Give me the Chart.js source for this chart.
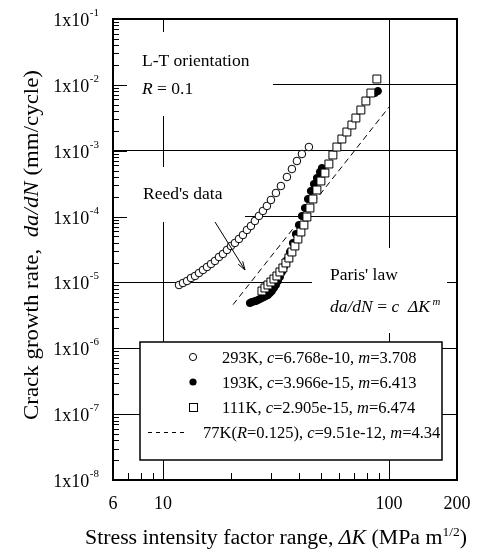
<!DOCTYPE html>
<html><head><meta charset="utf-8">
<script src="https://cdn.jsdelivr.net/npm/chart.js@4/dist/chart.umd.min.js"></script>
<style>html,body{margin:0;padding:0;background:#fff;}canvas{display:block;}</style>
</head><body>
<canvas id="c" width="493" height="555"></canvas>
<script>
const SERIF = '"Liberation Serif","Times New Roman",serif';

// ---- data ----
const k293_dK = [11.76,12.24,12.76,13.28,13.84,14.41,15.01,15.64,16.29,16.96,17.67,18.40,19.17,19.96,20.79,21.66,22.56,23.50,24.47,25.49,26.55,27.66,28.81,30.01,31.58,33.23,35.33,37.17,39.11,41.16,44.20];
const k293_rate = [9.14e-6,9.80e-6,1.051e-5,1.167e-5,1.253e-5,1.390e-5,1.545e-5,1.714e-5,1.905e-5,2.118e-5,2.432e-5,2.704e-5,3.110e-5,3.573e-5,3.972e-5,4.567e-5,5.248e-5,6.252e-5,7.192e-5,8.57e-5,1.021e-4,1.216e-4,1.449e-4,1.786e-4,2.281e-4,2.911e-4,3.990e-4,5.275e-4,6.98e-4,8.91e-4,1.138e-3];

const k193_dK = [24.23,24.73,25.24,25.76,26.29,26.83,27.38,27.95,28.52,29.11,29.71,30.31,30.94,31.58,32.23,32.89,33.57,34.25,35.33,36.42,37.55,38.71,39.92,41.16,42.45,43.76,45.11,46.51,47.96,49.45,50.46,86.60,89.28];
const k193_rate = [4.87e-6,5.05e-6,5.14e-6,5.23e-6,5.41e-6,5.60e-6,5.80e-6,6.01e-6,6.22e-6,6.44e-6,6.91e-6,7.41e-6,8.23e-6,9.14e-6,1.051e-5,1.209e-5,1.441e-5,1.716e-5,2.191e-5,2.898e-5,3.971e-5,5.437e-5,7.449e-5,1.020e-4,1.350e-4,1.849e-4,2.445e-4,3.125e-4,3.853e-4,4.752e-4,5.464e-4,7.52e-3,8.06e-3];

const k111_dK = [27.38,28.23,29.11,30.01,30.94,31.90,32.89,33.91,34.96,36.05,37.17,38.32,39.51,40.74,42.01,43.31,44.66,46.04,47.96,49.95,52.03,54.19,56.45,58.79,61.86,65.10,68.51,71.35,75.08,79.01,83.15,88.37];
const k111_rate = [7.41e-6,8.23e-6,9.14e-6,1.015e-5,1.127e-5,1.252e-5,1.441e-5,1.657e-5,1.973e-5,2.349e-5,2.898e-5,3.576e-5,4.566e-5,5.832e-5,7.449e-5,9.853e-5,1.350e-4,1.849e-4,2.533e-4,3.469e-4,4.587e-4,6.284e-4,8.610e-4,1.138e-3,1.505e-3,1.924e-3,2.457e-3,3.140e-3,4.153e-3,5.687e-3,7.52e-3,1.227e-2];

const paris77_dK = [20.4, 100];
const paris77_rate = [4.6e-6, 4.6e-3];

// ---- axes / ticks ----
const yDecades = [1e-1,1e-2,1e-3,1e-4,1e-5,1e-6,1e-7,1e-8];
const yExponents = ['-1','-2','-3','-4','-5','-6','-7','-8'];
const xTickValues = [6,10,100,200];
const xTickLabels = ['6','10','100','200'];
const xGridValues = [10,100];
const xMinorTicks = [7,8,9,20,30,40,50,60,70,80,90];

// ---- legend text ----
const legendRows = [
  [{t:'293K, '},{t:'c',i:1},{t:'=6.768e-10, '},{t:'m',i:1},{t:'=3.708'}],
  [{t:'193K, '},{t:'c',i:1},{t:'=3.966e-15, '},{t:'m',i:1},{t:'=6.413'}],
  [{t:'111K, '},{t:'c',i:1},{t:'=2.905e-15, '},{t:'m',i:1},{t:'=6.474'}],
  [{t:'77K('},{t:'R',i:1},{t:'=0.125), '},{t:'c',i:1},{t:'=9.51e-12, '},{t:'m',i:1},{t:'=4.34'}]
];

const zip = (a,b)=>a.map((v,i)=>({x:v,y:b[i]}));

function fontOf(s,size){ const sz = s.sup ? size*0.62 : size; return (s.i?'italic ':'')+sz+'px '+SERIF; }
function richWidth(ctx,segs,size){ let w=0; for(const s of segs){ctx.font=fontOf(s,size); w+=ctx.measureText(s.t).width;} return w; }
function drawRich(ctx,segs,x,y,size,align){
  const w=richWidth(ctx,segs,size);
  let cx = align==='center'? x-w/2 : align==='right'? x-w : x;
  ctx.textAlign='left'; ctx.textBaseline='alphabetic';
  for(const s of segs){ ctx.font=fontOf(s,size); ctx.fillText(s.t,cx,s.sup? y-size*0.42 : y); cx+=ctx.measureText(s.t).width; }
}
function drawRichFit(ctx,segs,cx,y,size,target){
  const w=richWidth(ctx,segs,size); const sx=target/w;
  ctx.save(); ctx.translate(cx,y); ctx.scale(sx,1); drawRich(ctx,segs,0,0,size,'center'); ctx.restore();
}

const maskBoxes = [[114,32,159,84],[114,167,131,55],[312,248,135,85]];

const decor = {
  id:'decor',
  beforeDatasetsDraw(chart){
    const {ctx, chartArea:a, scales:{x,y}} = chart;
    ctx.save();
    ctx.fillStyle='#fff';
    for(const b of maskBoxes) ctx.fillRect(b[0],b[1],b[2],b[3]);
    ctx.strokeStyle='#000'; ctx.lineWidth=1;
    ctx.beginPath();
    for(let k=-8;k<=-2;k++){ for(let m=2;m<=9;m++){ const py=Math.round(y.getPixelForValue(m*Math.pow(10,k)))+0.5; ctx.moveTo(a.left,py); ctx.lineTo(a.left+6,py);} }
    for(const v of yDecades){ const py=Math.round(y.getPixelForValue(v))+0.5; ctx.moveTo(a.left,py); ctx.lineTo(a.left+14,py); }
    for(const v of xMinorTicks){ const px=Math.round(x.getPixelForValue(v))+0.5; ctx.moveTo(px,a.bottom); ctx.lineTo(px,a.bottom-7); }
    ctx.stroke();
    ctx.lineWidth=2;
    ctx.strokeRect(a.left,a.top,a.right-a.left,a.bottom-a.top);
    ctx.restore();
  },
  afterDraw(chart){
    const {ctx, chartArea:a, scales:{x,y}} = chart;
    ctx.save();
    ctx.fillStyle='#000'; ctx.strokeStyle='#000';
    // y tick labels
    yDecades.forEach((v,i)=>{
      const py=y.getPixelForValue(v);
      ctx.font='11px '+SERIF; const ew=ctx.measureText(yExponents[i]).width;
      ctx.textAlign='left'; ctx.textBaseline='alphabetic';
      ctx.fillText(yExponents[i], 99-ew, py-3);
      ctx.font='18px '+SERIF; ctx.textAlign='right';
      ctx.fillText('1x10', 99-ew-0.5, py+7);
    });
    // x tick labels
    ctx.font='18px '+SERIF; ctx.textAlign='center';
    xTickValues.forEach((v,i)=>{ ctx.fillText(xTickLabels[i], x.getPixelForValue(v), 509); });
    // axis titles
    drawRichFit(ctx,[{t:'Stress intensity factor range, '},{t:'ΔK',i:1},{t:' (MPa m'},{t:'1/2',sup:1},{t:')'}],276,544,20,382);
    ctx.save(); ctx.translate(38,245); ctx.rotate(-Math.PI/2);
    drawRichFit(ctx,[{t:'Crack growth rate,  '},{t:'da/dN',i:1},{t:' (mm/cycle)'}],0,0,22,350);
    ctx.restore();
    // annotations
    drawRich(ctx,[{t:'L-T orientation'}],142,66,17.5,'left');
    drawRich(ctx,[{t:'R',i:1},{t:' = 0.1'}],142,94,17.5,'left');
    drawRich(ctx,[{t:"Reed's data"}],143,199,17.5,'left');
    drawRich(ctx,[{t:"Paris' law"}],330,280,17.5,'left');
    drawRich(ctx,[{t:'da/dN',i:1},{t:' = '},{t:'c',i:1},{t:'  '},{t:'ΔK',i:1},{t:' m',i:1,sup:1}],330,312,17.5,'left');
    // arrow
    ctx.lineWidth=1;
    ctx.beginPath(); ctx.moveTo(215,222); ctx.lineTo(245,270); ctx.stroke();
    const ang=Math.atan2(270-222,245-215);
    ctx.beginPath(); ctx.moveTo(245,270);
    ctx.lineTo(245-9*Math.cos(ang-0.3),270-9*Math.sin(ang-0.3));
    ctx.moveTo(245,270);
    ctx.lineTo(245-9*Math.cos(ang+0.3),270-9*Math.sin(ang+0.3));
    ctx.stroke();
    // legend box
    ctx.fillStyle='#fff'; ctx.fillRect(140,342,302,118);
    ctx.lineWidth=1.5; ctx.strokeRect(140,342,302,118);
    ctx.fillStyle='#000';
    const rowsY=[357,382,407,432];
    ctx.lineWidth=1;
    ctx.beginPath(); ctx.arc(193,rowsY[0],3.6,0,Math.PI*2); ctx.fillStyle='#fff'; ctx.fill(); ctx.stroke();
    ctx.fillStyle='#000'; ctx.beginPath(); ctx.arc(193,rowsY[1],3.6,0,Math.PI*2); ctx.fill();
    ctx.fillStyle='#fff'; ctx.fillRect(189,rowsY[2]-4,8,8); ctx.strokeRect(189.5,rowsY[2]-3.5,8,8);
    ctx.setLineDash([4,4]); ctx.beginPath(); ctx.moveTo(148,rowsY[3]+0.5); ctx.lineTo(188,rowsY[3]+0.5); ctx.stroke(); ctx.setLineDash([]);
    ctx.fillStyle='#000';
    drawRich(ctx,legendRows[0],222,rowsY[0]+5.5,16.5,'left');
    drawRich(ctx,legendRows[1],222,rowsY[1]+5.5,16.5,'left');
    drawRich(ctx,legendRows[2],222,rowsY[2]+5.5,16.5,'left');
    drawRich(ctx,legendRows[3],203,rowsY[3]+5.5,16.5,'left');
    ctx.restore();
  }
};

new Chart(document.getElementById('c'), {
  type:'scatter',
  data:{ datasets:[
    {label:'293K', data:zip(k293_dK,k293_rate), pointStyle:'circle', pointRadius:3.8, pointBackgroundColor:'#fff', pointBorderColor:'#000', pointBorderWidth:1, order:3},
    {label:'193K', data:zip(k193_dK,k193_rate), pointStyle:'circle', pointRadius:3.6, pointBackgroundColor:'#000', pointBorderColor:'#000', pointBorderWidth:1, order:2},
    {label:'111K', data:zip(k111_dK,k111_rate), pointStyle:'rect', pointRadius:5.6, pointBackgroundColor:'#fff', pointBorderColor:'#000', pointBorderWidth:1, order:1},
    {label:'77K', data:zip(paris77_dK,paris77_rate), showLine:true, borderColor:'#000', borderWidth:1, borderDash:[6,4], pointRadius:0, order:4}
  ]},
  options:{
    responsive:false, animation:false, devicePixelRatio:1, events:[],
    layout:{padding:{left:113,top:19,right:36,bottom:75}},
    plugins:{legend:{display:false}, tooltip:{enabled:false}},
    scales:{
      x:{type:'logarithmic', min:6, max:200,
         afterBuildTicks:s=>{s.ticks=xGridValues.map(v=>({value:v}));},
         ticks:{display:false}, grid:{color:'#000', lineWidth:1, drawTicks:false}, border:{display:false}},
      y:{type:'logarithmic', min:1e-8, max:1e-1,
         afterBuildTicks:s=>{s.ticks=yDecades.map(v=>({value:v}));},
         ticks:{display:false}, grid:{color:'#000', lineWidth:1, drawTicks:false}, border:{display:false}}
    }
  },
  plugins:[decor]
});
</script>
</body></html>
